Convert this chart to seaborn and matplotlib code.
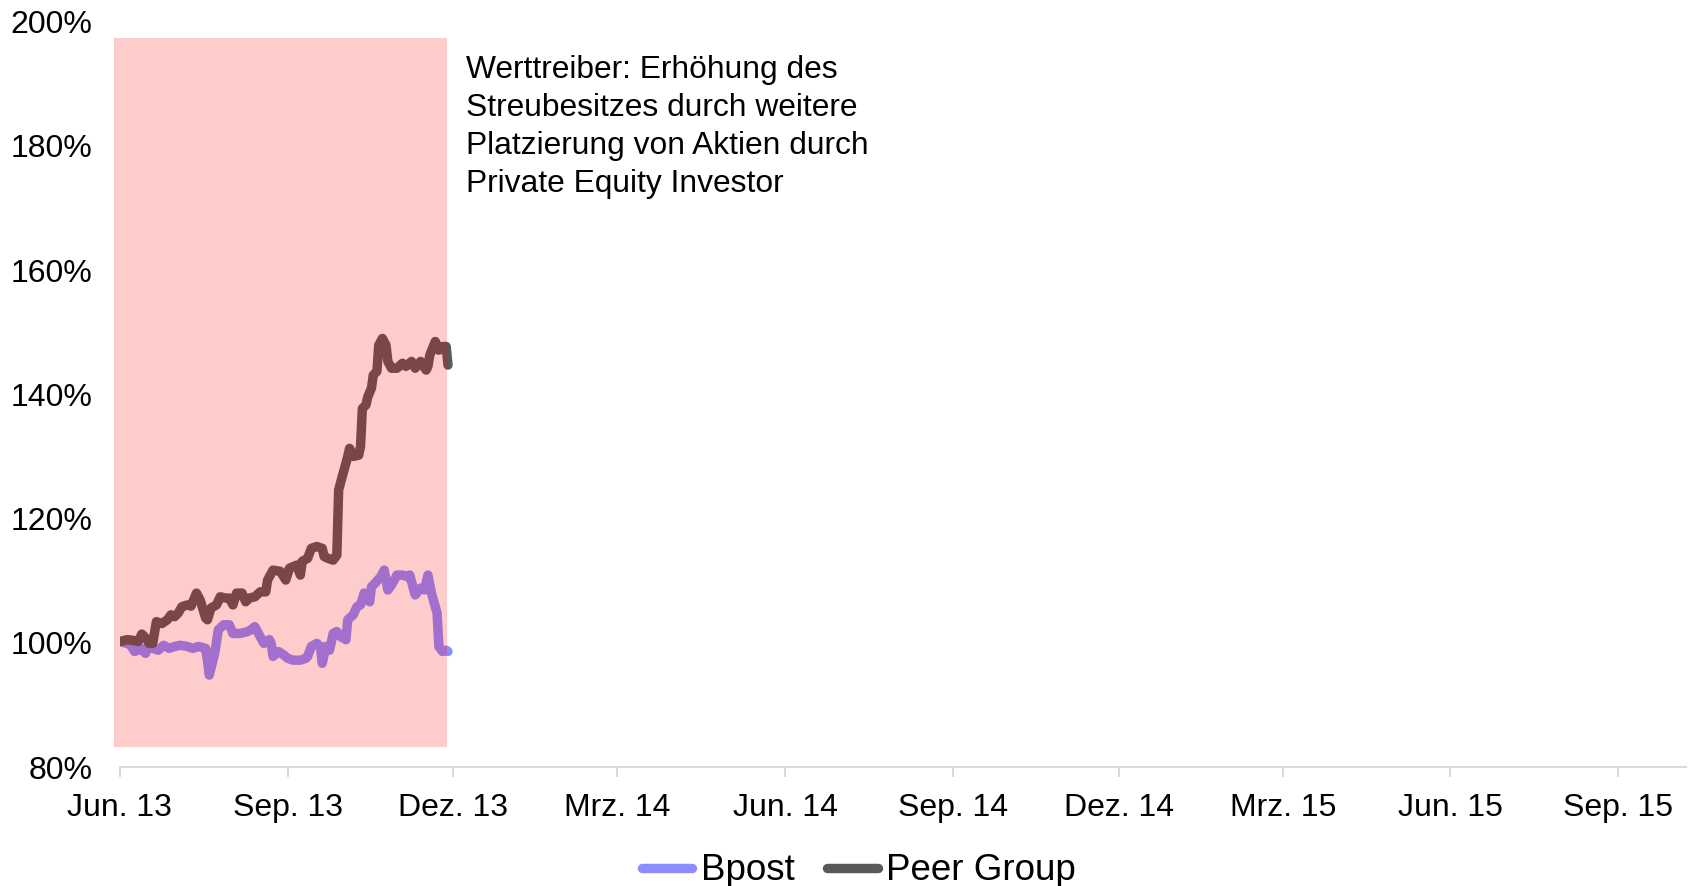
import pandas as pd
import matplotlib.pyplot as plt
from matplotlib.lines import Line2D
import seaborn as sns

# Tage seit dem 1. Juni 2013 und indexierte Kursentwicklung in %
start_date = pd.Timestamp('2013-06-01')

series_names = ['Bpost', 'Peer Group']
series_colors = ['#8c8cff', '#595959']

bpost_days = [0, 4, 6, 8, 10, 12, 14, 16, 18, 21, 24, 27, 30, 33, 37, 40, 43, 47, 48, 49,
              52, 54, 57, 60, 62, 66, 70, 72, 74, 76, 79, 82, 83, 84, 87, 90, 92, 95, 99, 102,
              103, 105, 108, 110, 111, 113, 115, 117, 119, 121, 124, 125, 128, 130, 132, 134, 136, 137, 138, 140,
              143, 145, 147, 149, 152, 155, 158, 159, 162, 165, 167, 168, 169, 171, 174, 175, 177, 179, 180]
bpost_values = [100.2, 99.9, 99.6, 98.6, 98.8, 99.1, 98.3, 99.6, 99.1, 98.8, 99.6, 99.1, 99.4, 99.6, 99.4, 99.1, 99.4, 99.1, 97.2, 94.8,
                98.3, 102.1, 102.9, 102.9, 101.5, 101.5, 101.8, 102.1, 102.6, 101.5, 99.9, 100.5, 99.9, 97.8, 98.6, 98.0, 97.5, 97.2, 97.2, 97.5,
                97.8, 99.4, 99.9, 99.4, 96.7, 99.4, 98.8, 101.5, 101.8, 101.0, 100.5, 103.7, 104.5, 105.8, 106.1, 108.0, 107.2, 106.6, 109.0, 109.6,
                110.6, 111.7, 108.5, 109.3, 110.9, 110.9, 110.6, 110.9, 107.7, 108.8, 108.5, 109.6, 110.9, 107.9, 104.8, 99.4, 98.6, 98.8, 98.6]

peer_days = [0, 4, 7, 10, 12, 15, 16, 18, 20, 23, 26, 28, 30, 32, 34, 37, 39, 42, 44, 47,
             48, 50, 53, 55, 58, 60, 62, 64, 67, 69, 71, 74, 77, 80, 81, 84, 88, 91, 93, 97,
             99, 100, 103, 105, 108, 111, 112, 114, 117, 119, 120, 122, 124, 125, 126, 128, 131, 132, 133, 135,
             136, 138, 139, 141, 142, 144, 146, 147, 149, 152, 155, 157, 160, 162, 165, 168, 169, 170, 173, 175,
             177, 179, 180]
peer_values = [100.2, 100.5, 100.4, 100.2, 101.4, 100.5, 99.9, 99.9, 103.4, 103.1, 103.7, 104.5, 104.2, 104.8, 105.8, 106.1, 105.9, 108.0, 106.9, 104.0,
               103.7, 105.6, 106.1, 107.4, 107.2, 107.2, 106.1, 108.0, 108.0, 106.6, 107.2, 107.4, 108.2, 108.2, 110.1, 111.7, 111.5, 110.1, 112.0, 112.5,
               110.9, 113.1, 113.6, 115.2, 115.5, 115.2, 113.9, 113.6, 113.3, 114.1, 124.6, 126.8, 128.9, 130.0, 131.3, 130.0, 130.2, 131.6, 137.7, 138.3,
               139.6, 141.0, 143.1, 143.7, 147.9, 149.0, 147.9, 145.3, 144.2, 144.2, 145.0, 144.5, 145.3, 144.2, 145.3, 143.9, 144.5, 146.3, 148.5, 147.1,
               147.7, 147.7, 144.7]

tick_dates = ['2013-06-01', '2013-09-01', '2013-12-01', '2014-03-01', '2014-06-01',
              '2014-09-01', '2014-12-01', '2015-03-01', '2015-06-01', '2015-09-01']
tick_labels = ['Jun. 13', 'Sep. 13', 'Dez. 13', 'Mrz. 14', 'Jun. 14',
               'Sep. 14', 'Dez. 14', 'Mrz. 15', 'Jun. 15', 'Sep. 15']
y_ticks = [80, 100, 120, 140, 160, 180, 200]
y_labels = ['80%', '100%', '120%', '140%', '160%', '180%', '200%']

# markierter Zeitraum
highlight_dates = ['2013-05-28 16:00', '2013-11-27 12:00']
highlight_range = [83.2, 197.4]
note = ('Werttreiber: Erhöhung des\nStreubesitzes durch weitere\n'
        'Platzierung von Aktien durch\nPrivate Equity Investor')

df = pd.concat([
    pd.DataFrame({'date': start_date + pd.to_timedelta(bpost_days, unit='D'),
                  'value': bpost_values, 'series': 'Bpost'}),
    pd.DataFrame({'date': start_date + pd.to_timedelta(peer_days, unit='D'),
                  'value': peer_values, 'series': 'Peer Group'}),
])

sns.set_theme(style='white')
plt.rcParams['font.family'] = ['Liberation Sans', 'DejaVu Sans']
plt.rcParams['text.color'] = 'black'

fig = plt.figure(figsize=(16.94, 8.86), dpi=100)
ax = fig.add_axes([0.0708, 0.1343, 0.9242, 0.8413])

palette = dict(zip(series_names, series_colors))
sns.lineplot(data=df, x='date', y='value', hue='series', hue_order=series_names,
             palette=palette, estimator=None, sort=False, lw=6.8, legend=False,
             solid_capstyle='round', solid_joinstyle='round', ax=ax)

ax.fill_between(pd.to_datetime(highlight_dates), highlight_range[0], highlight_range[1],
                color='red', alpha=0.2, lw=0, zorder=3, clip_on=False)

ax.text(pd.Timestamp('2013-12-08'), 194.7, note, fontsize=22.9, va='top', ha='left',
        linespacing=1.36, color='black', zorder=4)

ax.set_xlim(start_date, pd.Timestamp('2015-10-08'))
ax.set_ylim(80, 200)
ax.set_xticks(pd.to_datetime(tick_dates))
ax.set_xticklabels(tick_labels)
ax.set_yticks(y_ticks)
ax.set_yticklabels(y_labels)
ax.set_xlabel('')
ax.set_ylabel('')

for side in ['top', 'right', 'left']:
    ax.spines[side].set_visible(False)
ax.spines['bottom'].set_color('#d9d9d9')
ax.spines['bottom'].set_linewidth(1.4)
ax.tick_params(axis='x', bottom=True, length=7, width=1.4, color='#d9d9d9',
               labelsize=23, pad=12, labelcolor='black')
ax.tick_params(axis='y', left=False, labelsize=23, pad=14, labelcolor='black')

handles = [Line2D([], [], color=c, lw=6.8, solid_capstyle='round') for c in series_colors]
fig.legend(handles, series_names, loc='center', bbox_to_anchor=(0.507, 0.017),
           ncol=2, frameon=False, fontsize=26.5, handlelength=1.38,
           handletextpad=0.22, columnspacing=0.9, borderpad=0, labelcolor='black')

fig.savefig('out.png', dpi=100)
